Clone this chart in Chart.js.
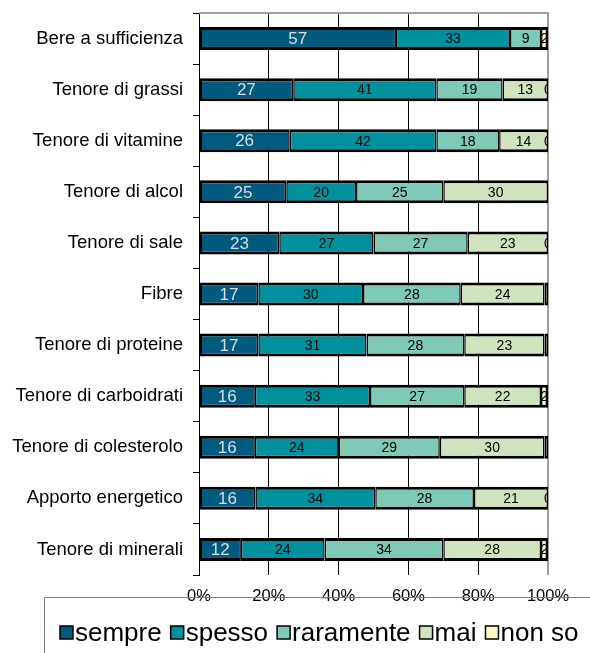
<!DOCTYPE html>
<html>
<head>
<meta charset="utf-8">
<script src="https://cdn.jsdelivr.net/npm/chart.js@4"></script>
<style>
  html, body { margin: 0; padding: 0; background: #fff; }
  canvas { display: block; }
</style>
</head>
<body>
<canvas id="chart" width="590" height="653"></canvas>
<script>
// categories, top to bottom
const categories = [
  "Bere a sufficienza", "Tenore di grassi", "Tenore di vitamine", "Tenore di alcol",
  "Tenore di sale", "Fibre", "Tenore di proteine", "Tenore di carboidrati",
  "Tenore di colesterolo", "Apporto energetico", "Tenore di minerali"
];

// answers per category
const sempre    = [57, 27, 26, 25, 23, 17, 17, 16, 16, 16, 12];
const spesso    = [33, 41, 42, 20, 27, 30, 31, 33, 24, 34, 24];
const raramente = [ 9, 19, 18, 25, 27, 28, 28, 27, 29, 28, 34];
const mai       = [ 0, 13, 14, 30, 23, 24, 23, 22, 30, 21, 28];
const nonSo     = [ 2,  0,  0,  0,  0,  1,  1,  2,  1,  0,  2];
// labels of the "non so" segment that show at the right edge
const nonSoLabels = ["2", "0", "0", "", "0", "", "", "2", "", "0", "2"];

const seriesNames = ["sempre", "spesso", "raramente", "mai", "non so"];
const seriesColors = ["#005b7f", "#00909e", "#7fcab6", "#cfe3be", "#fff7bf"];
const xTicks = [0, 20, 40, 60, 80, 100];

const raw = [sempre, spesso, raramente, mai, nonSo];
const totals = categories.map((_, i) => raw.reduce((s, arr) => s + arr[i], 0));
// 100% stacked: share of each answer in its row
const shares = raw.map(arr => arr.map((v, i) => v / totals[i] * 100));

const FONT = "'Liberation Sans', Arial, sans-serif";

// value labels inside segments
const segmentLabels = {
  id: "segmentLabels",
  afterDatasetsDraw(chart) {
    const { ctx, chartArea } = chart;
    ctx.save();
    ctx.beginPath();
    ctx.rect(chartArea.left, chartArea.top - 20, chartArea.right - chartArea.left, chartArea.bottom - chartArea.top + 40);
    ctx.clip();
    ctx.textAlign = "center";
    ctx.textBaseline = "middle";
    chart.data.datasets.forEach((ds, di) => {
      const meta = chart.getDatasetMeta(di);
      meta.data.forEach((el, i) => {
        let txt;
        if (di === 4) txt = nonSoLabels[i];
        else txt = raw[di][i] > 0 ? String(raw[di][i]) : "";
        if (!txt) return;
        if (di === 0) {
          ctx.font = "17px " + FONT;
          ctx.fillStyle = "#d8dee4";
        } else {
          ctx.font = "14px " + FONT;
          ctx.fillStyle = "#000";
        }
        const cx = (el.x + el.base) / 2;
        ctx.fillText(txt, cx, el.y + 1);
      });
    });
    ctx.restore();
  }
};

// grey plot border on top, and the legend box underneath
const frameAndLegend = {
  id: "frameAndLegend",
  beforeDatasetsDraw(chart) {
    const { ctx, chartArea } = chart;
    ctx.save();
    ctx.strokeStyle = "#a0a0a0";
    ctx.lineWidth = 2;
    ctx.beginPath();
    ctx.moveTo(chartArea.left, chartArea.top);
    ctx.lineTo(chartArea.right + 1, chartArea.top);
    ctx.stroke();
    ctx.restore();
  },
  afterDraw(chart) {
    const { ctx } = chart;
    ctx.save();
    ctx.strokeStyle = "#808080";
    ctx.lineWidth = 1;
    ctx.strokeRect(44.5, 597.5, 600, 70);
    ctx.font = "26px " + FONT;
    ctx.textBaseline = "middle";
    let x = 60;
    const y = 633;
    seriesNames.forEach((name, i) => {
      ctx.fillStyle = seriesColors[i];
      ctx.fillRect(x, y - 7, 13, 13);
      ctx.strokeStyle = "#000";
      ctx.lineWidth = 1.5;
      ctx.strokeRect(x, y - 7, 13, 13);
      ctx.fillStyle = "#000";
      ctx.fillText(name, x + 15, y + 1);
      x += 15 + ctx.measureText(name).width + 9;
    });
    ctx.restore();
  }
};

new Chart(document.getElementById("chart"), {
  type: "bar",
  data: {
    labels: categories,
    datasets: seriesNames.map((name, i) => ({
      label: name,
      data: shares[i],
      backgroundColor: seriesColors[i],
      borderColor: "#000",
      borderWidth: { top: 3, bottom: 3, left: i === 0 ? 2.5 : 1.5, right: i === 4 ? 2.5 : 1.5 },
      borderSkipped: false,
      barPercentage: 0.45,
      categoryPercentage: 1
    }))
  },
  options: {
    indexAxis: "y",
    responsive: false,
    animation: false,
    layout: { padding: { top: 13, right: 42, left: 0, bottom: 0 } },
    plugins: {
      legend: { display: false },
      tooltip: { enabled: false }
    },
    scales: {
      x: {
        stacked: true,
        min: 0,
        max: 100,
        afterBuildTicks: scale => { scale.ticks = xTicks.map(v => ({ value: v })); },
        afterFit: scale => {
          scale.height = 78;
          scale.paddingLeft = 0;
          scale.paddingRight = 0;
        },
        ticks: {
          callback: v => v + "%",
          color: "#000",
          font: { size: 16.5, family: FONT },
          padding: 12,
          maxRotation: 0
        },
        grid: {
          color: c => (c.tick && c.tick.value === 100 ? "#a0a0a0" : "#000"),
          lineWidth: c => (c.tick && c.tick.value === 100 ? 2 : 1),
          drawTicks: false
        },
        border: { display: false }
      },
      y: {
        stacked: true,
        afterFit: scale => {
          scale.width = 199;
          scale.paddingTop = 0;
          scale.paddingBottom = 0;
        },
        ticks: {
          color: "#000",
          font: { size: 18.5, family: FONT },
          padding: 10
        },
        grid: {
          offset: true,
          drawOnChartArea: false,
          drawTicks: true,
          tickLength: 6,
          tickColor: "#000"
        },
        border: { display: true, color: "#000", width: 1 }
      }
    }
  },
  plugins: [frameAndLegend, segmentLabels]
});
</script>
</body>
</html>
